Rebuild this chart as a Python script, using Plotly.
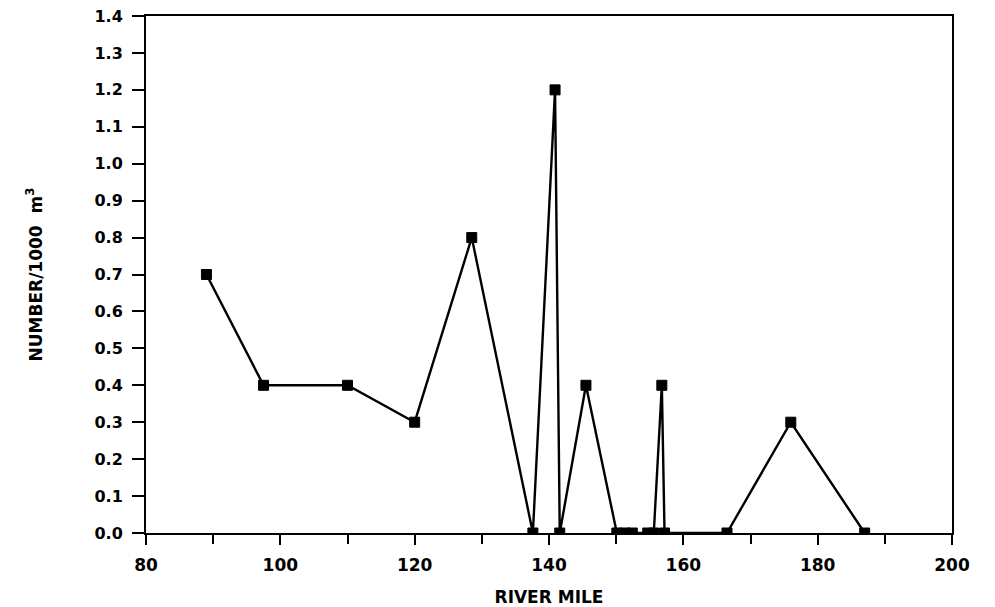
import plotly.graph_objects as go

river_mile = [89, 97.5, 110, 120, 128.5, 137.6, 140.9, 141.6, 145.5, 150.1, 151.3, 152.4,
              154.7, 155.6, 156.8, 157.2, 166.5, 176, 187]
number_per_1000m3 = [0.7, 0.4, 0.4, 0.3, 0.8, 0.0, 1.2, 0.0, 0.4, 0.0, 0.0, 0.0,
                     0.0, 0.0, 0.4, 0.0, 0.0, 0.3, 0.0]

x_ticks = [80, 100, 120, 140, 160, 180, 200]
y_ticks = [round(i * 0.1, 1) for i in range(15)]

FAM = "DejaVu Sans, Liberation Sans, Arial, sans-serif"

fig = go.Figure()
fig.add_trace(go.Scatter(
    x=river_mile, y=number_per_1000m3,
    mode="lines+markers",
    line=dict(color="black", width=2.4),
    marker=dict(symbol="square", size=10, color="black",
                line=dict(color="black", width=1)),
    showlegend=False,
))

fig.update_layout(
    width=995, height=607,
    margin=dict(l=146, r=43, t=16, b=74),
    paper_bgcolor="white", plot_bgcolor="white",
    font=dict(family=FAM, size=16, color="black"),
    xaxis=dict(
        range=[80, 200], tickvals=x_ticks, ticktext=[f"<b>{v}</b>" for v in x_ticks],
        ticks="outside", ticklen=10, tickwidth=2, tickcolor="black",
        ticklabelstandoff=6, automargin=False,
        showline=True, linecolor="black", linewidth=2, mirror=True,
        showgrid=False, zeroline=False,
        minor=dict(dtick=10, tick0=80, ticks="outside", ticklen=9, tickwidth=2, tickcolor="black"),
        tickfont=dict(family=FAM, size=17, color="black"),
        title=dict(text="<b>RIVER MILE</b>", standoff=18,
                   font=dict(family=FAM, size=17, color="black")),
    ),
    yaxis=dict(
        range=[0, 1.4], tickvals=y_ticks, ticktext=[f"<b>{v:.1f}</b>" for v in y_ticks],
        ticks="outside", ticklen=12, tickwidth=2, tickcolor="black",
        ticklabelstandoff=6, automargin=False,
        showline=True, linecolor="black", linewidth=2, mirror=True,
        showgrid=False, zeroline=False,
        tickfont=dict(family=FAM, size=16, color="black"),
        title=dict(text="<b>NUMBER/1000  m<sup>3</sup></b>", standoff=48,
                   font=dict(family=FAM, size=17, color="black")),
    ),
)

fig.write_html("out.html")
